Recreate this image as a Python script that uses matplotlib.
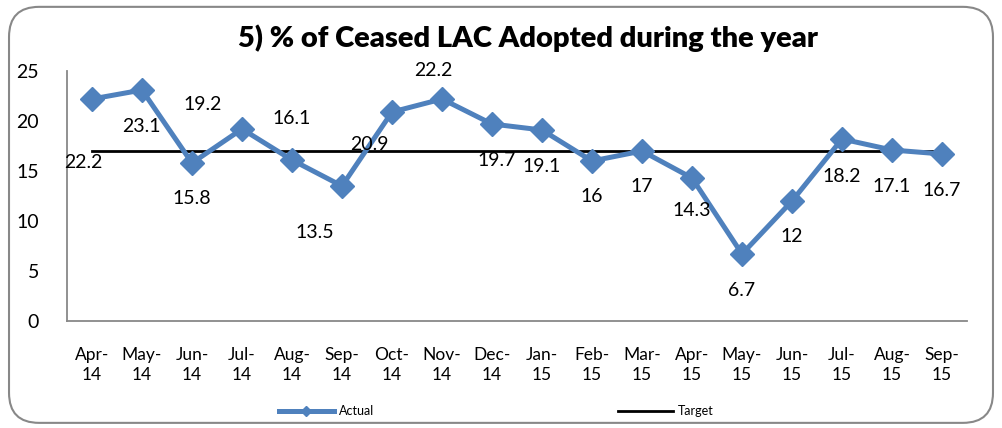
import matplotlib
matplotlib.use("Agg")
import matplotlib.pyplot as plt
from matplotlib.patches import FancyBboxPatch

plt.rcParams['font.family'] = ['Lato', 'DejaVu Sans']

months = ["Apr-\n14", "May-\n14", "Jun-\n14", "Jul-\n14", "Aug-\n14", "Sep-\n14",
          "Oct-\n14", "Nov-\n14", "Dec-\n14", "Jan-\n15", "Feb-\n15", "Mar-\n15",
          "Apr-\n15", "May-\n15", "Jun-\n15", "Jul-\n15", "Aug-\n15", "Sep-\n15"]
actual = [22.2, 23.1, 15.8, 19.2, 16.1, 13.5, 20.9, 22.2, 19.7, 19.1, 16, 17,
          14.3, 6.7, 12, 18.2, 17.1, 16.7]
target = [17] * len(months)
labels = ["22.2", "23.1", "15.8", "19.2", "16.1", "13.5", "20.9", "22.2", "19.7",
          "19.1", "16", "17", "14.3", "6.7", "12", "18.2", "17.1", "16.7"]

# label offsets in pixels (Excel placed these oddly)
offsets = [(-9, -64), (-1, -37), (0, -36), (-39, 24), (0, 41), (-27, -46),
           (-23, -32), (-9, 29), (5, -36), (0, -36), (0, -35), (0, -36),
           (0, -32), (0, -36), (0, -36), (0, -37), (0, -37), (0, -36)]

blue = "#4F81BD"

fig = plt.figure(figsize=(10.02, 4.28), dpi=100)
ax = fig.add_axes([67 / 1002, 107 / 428, 900 / 1002, 250 / 428])

x = list(range(len(months)))
ax.plot(x, actual, color=blue, lw=3.6, marker="D", markersize=12.5, label="Actual", zorder=3)
ax.plot(x, target, color="black", lw=2, label="Target", zorder=2)

for i, (v, t) in enumerate(zip(actual, labels)):
    dx, dy = offsets[i]
    ax.annotate(t, (i, v), xytext=(dx, dy), textcoords="offset pixels",
                ha="center", va="center", fontsize=14)

ax.set_xlim(-0.5, len(months) - 0.5)
ax.set_ylim(0, 25)
ax.set_yticks([0, 5, 10, 15, 20, 25])
ax.set_xticks(x)
ax.set_xticklabels(months, fontsize=12.5, linespacing=1.3)
ax.tick_params(axis="y", labelsize=14, length=0, pad=20)
ax.tick_params(axis="x", length=0, pad=19)
for s in ["top", "right"]:
    ax.spines[s].set_visible(False)
for s in ["left", "bottom"]:
    ax.spines[s].set_color("#888888")
    ax.spines[s].set_linewidth(1.3)

fig.text(0.527, 0.91, "5) % of Ceased LAC Adopted during the year",
         ha="center", va="center", fontsize=21, fontweight="heavy")

fig.legend(loc="center", bbox_to_anchor=(0.495, 0.04), ncol=2, frameon=False,
           fontsize=9, handlelength=4.4, columnspacing=19.5, handletextpad=0.4,
           markerscale=0.4)

frame = FancyBboxPatch((0.009, 0.012), 0.982, 0.972, boxstyle="round,pad=0,rounding_size=0.03",
                       transform=fig.transFigure, fill=False, edgecolor="#888888",
                       lw=1.5, mutation_aspect=1002 / 428)
fig.patches.append(frame)

fig.savefig("out.png", dpi=100)
